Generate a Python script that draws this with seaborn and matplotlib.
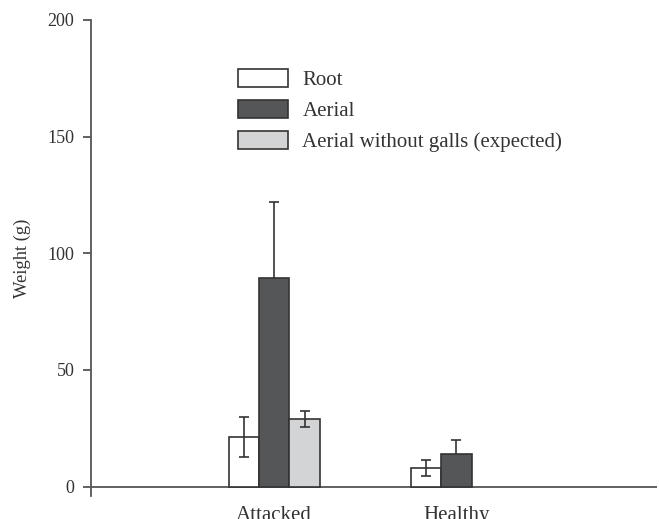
import pandas as pd
import seaborn as sns
import matplotlib
matplotlib.use("Agg")
import matplotlib.pyplot as plt

# values (weight in g)
groups = ["Attacked", "Attacked", "Attacked", "Healthy", "Healthy"]
parts = ["Root", "Aerial", "Aerial without galls (expected)", "Root", "Aerial"]
weight = [21.3, 89.6, 29.0, 8.0, 14.1]
err = [8.7, 32.3, 3.4, 3.4, 6.0]

part_order = ["Root", "Aerial", "Aerial without galls (expected)"]
part_colors = ["#ffffff", "#545658", "#d3d4d6"]
ink = "#333333"

df = pd.DataFrame({"group": groups, "part": parts, "weight": weight, "err": err})

sns.set_style("ticks")
plt.rcParams["font.family"] = ["Liberation Serif", "DejaVu Serif"]

fig = plt.figure(figsize=(6.59, 5.19), dpi=100)
ax = fig.add_axes([91 / 659, 23 / 519, 566 / 659, 476 / 519])

sns.barplot(data=df, x="group", y="weight", hue="part", hue_order=part_order,
            palette=part_colors, width=0.5, dodge=True, edgecolor=ink,
            linewidth=1.2, errorbar=None, ax=ax, zorder=2)

# error bars at the bar centres, matched by height;
# on the dark bars the lower half sits hidden behind the bar
for p in ax.patches:
    h = p.get_height()
    if h <= 0:
        continue
    row = df.iloc[(df["weight"] - h).abs().argmin()]
    behind = row["part"] == "Aerial"
    ax.errorbar(p.get_x() + p.get_width() / 2, h, yerr=row["err"], fmt="none",
                ecolor=ink, elinewidth=1.2, capsize=3.5, capthick=1.2,
                zorder=1.5 if behind else 3)

ax.set_ylim(-4, 200)
ax.set_xlim(-1.005, 2.1)
ax.set_yticks([0, 50, 100, 150, 200])
ax.axhline(0, color="#555555", lw=1.3, zorder=1)
ax.set_xlabel("")
ax.set_ylabel("Weight (g)", fontsize=13.3, color=ink, labelpad=12)

sns.despine(ax=ax, bottom=True)
ax.spines["left"].set_color("#555555")
ax.spines["left"].set_linewidth(1.3)
ax.tick_params(axis="y", length=6, width=1.3, color="#555555",
               labelsize=13, labelcolor=ink, pad=6)
ax.tick_params(axis="x", length=0, labelsize=15, labelcolor=ink, pad=7)

leg = ax.legend(loc="upper left", bbox_to_anchor=(0.2445, 0.915), frameon=False,
                fontsize=15, handlelength=2.4, handleheight=0.95,
                handletextpad=0.7, labelspacing=0.48, borderaxespad=0)
for t in leg.get_texts():
    t.set_color(ink)
for h in leg.legend_handles:
    h.set_edgecolor(ink)
    h.set_linewidth(1.2)

fig.savefig("out.png", dpi=100)
